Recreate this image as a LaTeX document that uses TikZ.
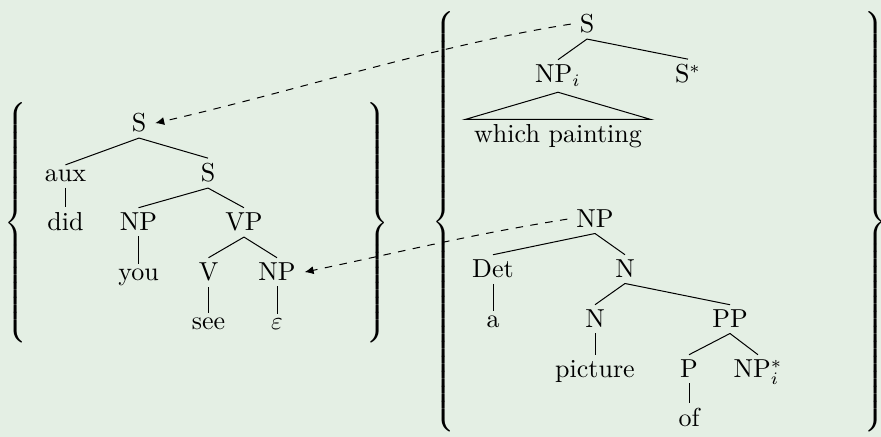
\documentclass[tikz,border=0pt]{standalone}
\usetikzlibrary{arrows.meta}
\definecolor{bgcol}{RGB}{228,239,228}
% braces grow to exactly the requested height
\delimitershortfall=0pt
\delimiterfactor=1000
\begin{document}
\begin{tikzpicture}[x=0.4pt,y=-0.4pt,
  every node/.style={font=\fontsize{10.4}{12.5}\selectfont, inner ysep=2pt, inner xsep=3.4pt},
  lbl/.style={anchor=base},
  link/.style={dashed, -{Latex[length=3.6pt,width=3.2pt]}},
  delim/.style={inner sep=0pt, anchor=center}]
\fill[bgcol] (0,0) rectangle (881,437);
\useasboundingbox (0,0) rectangle (881,437);

% ---- left tree: did you see
\node[lbl] (s1)  at (139,132) {S};
\node[lbl] (aux) at (65.5,182) {aux};
\node[lbl] (s2)  at (208,182) {S};
\node[lbl] (did) at (65.5,231) {did};
\node[lbl] (np1) at (138.5,231) {NP};
\node[lbl] (vp)  at (244,231) {VP};
\node[lbl] (you) at (138.5,281) {you};
\node[lbl] (v)   at (208.5,281) {V};
\node[lbl] (np2) at (277,281) {NP};
\node[lbl] (see) at (208.5,330) {see};
\node[lbl] (eps) at (277,330) {$\varepsilon$};

\draw (s1.south) -- (aux.north);
\draw (s1.south) -- (s2.north);
\draw (aux.south) -- (did.north);
\draw (s2.south) -- (np1.north);
\draw (s2.south) -- (vp.north);
\draw (np1.south) -- (you.north);
\draw (vp.south) -- (v.north);
\draw (vp.south) -- (np2.north);
\draw (v.south) -- (see.north);
\draw (np2.south) -- (eps.north);

\node[delim] (lbA) at (17,223) {$\left\{\vcenter{\hbox{\rule{0pt}{96pt}}}\right.$};
\node[delim] (rbA) at (376,223) {$\left.\vcenter{\hbox{\rule{0pt}{96pt}}}\right\}$};

% ---- right trees: which painting / a picture of
\node[lbl] (rs)    at (587,33) {S};
\node[lbl] (npi)   at (558,83) {NP$_i$};
\node[lbl] (sstar) at (688,83) {S$^*$};
\node[lbl] (wp)    at (558,143) {which painting};
\draw (rs.south) -- (npi.north);
\draw (rs.south) -- (sstar.north);
\draw (npi.south) -- (wp.north west) -- (wp.north east) -- cycle;

\node[lbl] (rnp)  at (595,228) {NP};
\node[lbl] (det)  at (493,278) {Det};
\node[lbl] (rn1)  at (625,278) {N};
\node[lbl] (a)    at (493,328) {a};
\node[lbl] (rn2)  at (595,328) {N};
\node[lbl] (pp)   at (730,328) {PP};
\node[lbl] (pic)  at (595,378) {picture};
\node[lbl] (p)    at (689,378) {P};
\node[lbl] (npis) at (758,378) {NP$_i^*$};
\node[lbl] (of)   at (689,427) {of};

\draw (rnp.south) -- (det.north);
\draw (rnp.south) -- (rn1.north);
\draw (det.south) -- (a.north);
\draw (rn1.south) -- (rn2.north);
\draw (rn1.south) -- (pp.north);
\draw (rn2.south) -- (pic.north);
\draw (pp.south) -- (p.north);
\draw (pp.south) -- (npis.north);
\draw (p.south) -- (of.north);

\node[delim] (lbB) at (445,222) {$\left\{\vcenter{\hbox{\rule{0pt}{167pt}}}\right.$};
\node[delim] (rbB) at (874,222) {$\left.\vcenter{\hbox{\rule{0pt}{167pt}}}\right\}$};

% ---- substitution links
\draw[link] (rs.west) .. controls +(-132,20.5) and +(136,-31) .. (s1.east);
\draw[link] (rnp.west) .. controls +(-100,16) and +(100,-21) .. (np2.east);
\end{tikzpicture}
\end{document}
